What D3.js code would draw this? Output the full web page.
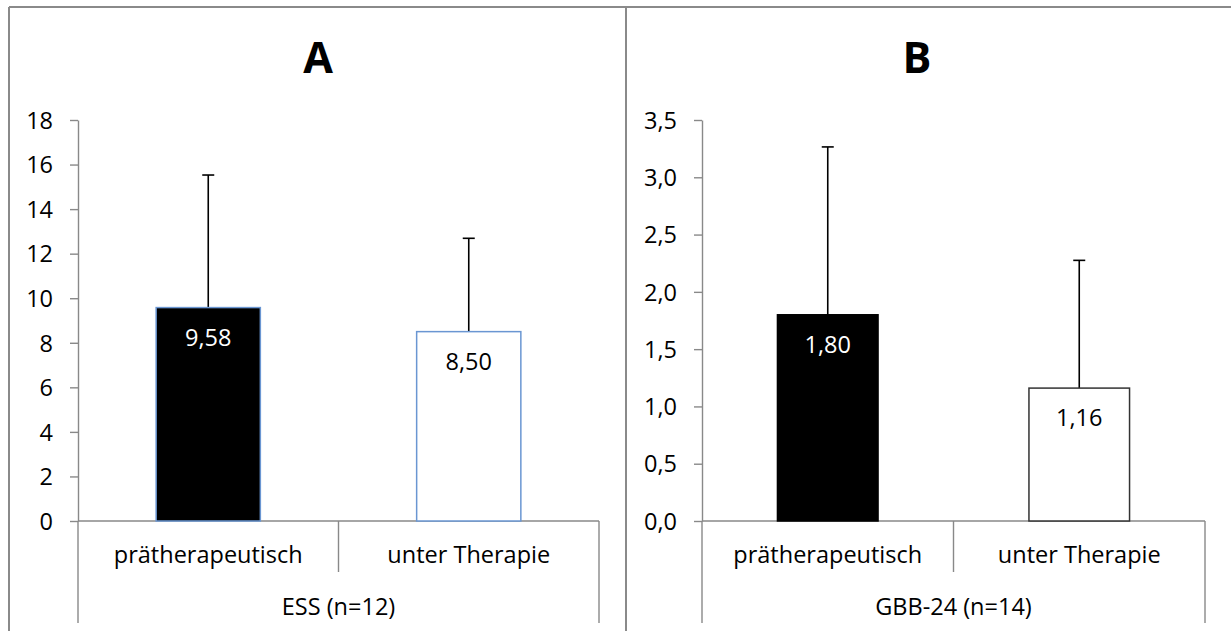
<!DOCTYPE html>
<head>
  <meta charset="utf-8">
  <script src="https://cdnjs.cloudflare.com/ajax/libs/d3/7.8.5/d3.min.js"></script>
</head>

<style>

body {
  margin: 0;
  background-color: #fff;
}

svg text {
  font-family: "Open Sans", "Noto Sans", sans-serif;
  fill: #000;
}

.frame line {
  stroke: #8a8a8a;
  stroke-width: 2;
}

.axis path, .axis line, .cat line {
  stroke: #898989;
  stroke-width: 1.4;
}

.axis text {
  font-size: 23.5px;
}

.title {
  font-size: 43px;
  font-weight: bold;
}

</style>

<body>
  <svg id='chart' width='1231' height='631'></svg>
</body>

<script>

// data
var panelTitles = ['A', 'B'];
var categories = ['prätherapeutisch', 'unter Therapie'];
var groupLabels = ['ESS (n=12)', 'GBB-24 (n=14)'];

var essMeans = [9.58, 8.50];
var essErrTop = [15.53, 12.69];
var essTicks = [0, 2, 4, 6, 8, 10, 12, 14, 16, 18];

var gbbMeans = [1.80, 1.16];
var gbbErrTop = [3.265, 2.275];
var gbbTicks = [0, 0.5, 1.0, 1.5, 2.0, 2.5, 3.0, 3.5];

var de = d3.formatLocale({decimal: ',', thousands: '.', grouping: [3], currency: ['', ' €']});

var svg = d3.select('#chart');

// outer frames
var frame = svg.append('g').attr('class', 'frame');
frame.append('line').attr('x1', 9).attr('x2', 1231).attr('y1', 7).attr('y2', 7);
frame.append('line').attr('x1', 9).attr('x2', 9).attr('y1', 7).attr('y2', 631);
frame.append('line').attr('x1', 626).attr('x2', 626).attr('y1', 7).attr('y2', 631);

var panels = [
  {title: panelTitles[0], group: groupLabels[0], means: essMeans, err: essErrTop, ticks: essTicks,
   fmt: de.format('d'), left: 78, right: 599, titleX: 318,
   fills: ['#000', '#fff'], strokes: ['#6a96d2', '#6a96d2'], labelFill: ['#fff', '#000']},
  {title: panelTitles[1], group: groupLabels[1], means: gbbMeans, err: gbbErrTop, ticks: gbbTicks,
   fmt: de.format('.1f'), left: 702, right: 1205, titleX: 917,
   fills: ['#000', '#fff'], strokes: ['#000', '#333'], labelFill: ['#fff', '#000']}
];

var y0 = 521, yTop = 120;

panels.forEach(function(p) {
  var g = svg.append('g');

  var x = d3.scaleBand().domain(categories).range([p.left, p.right]);
  var y = d3.scaleLinear().domain([0, d3.max(p.ticks)]).range([y0, yTop]);
  var bw = x.bandwidth() * 0.4;

  g.append('text').attr('class', 'title')
    .attr('x', p.titleX).attr('y', 73)
    .attr('text-anchor', 'middle')
    .text(p.title);

  var ax = g.append('g').attr('class', 'axis')
    .attr('transform', 'translate(' + p.left + ',0)')
    .call(d3.axisLeft(y).tickValues(p.ticks).tickFormat(p.fmt)
      .tickSize(8).tickSizeOuter(0).tickPadding(17));
  ax.selectAll('text').attr('dy', '0.35em');

  // category axis with separators
  var cat = g.append('g').attr('class', 'cat');
  cat.append('line').attr('x1', p.left).attr('x2', p.right).attr('y1', y0).attr('y2', y0);
  cat.append('line').attr('x1', p.left).attr('x2', p.left).attr('y1', y0).attr('y2', 623);
  cat.append('line').attr('x1', p.right).attr('x2', p.right).attr('y1', y0).attr('y2', 623);
  cat.append('line')
    .attr('x1', x(categories[1])).attr('x2', x(categories[1]))
    .attr('y1', y0).attr('y2', 572);

  g.selectAll('.catlabel').data(categories).enter().append('text')
    .attr('class', 'catlabel')
    .attr('x', function(d) { return x(d) + x.bandwidth() / 2; })
    .attr('y', 563)
    .attr('text-anchor', 'middle')
    .style('font-size', '23.5px')
    .text(function(d) { return d; });

  g.append('text')
    .attr('x', (p.left + p.right) / 2).attr('y', 615)
    .attr('text-anchor', 'middle')
    .style('font-size', '23.5px')
    .text(p.group);

  // error bars (drawn behind the bars)
  var err = g.selectAll('.err').data(categories).enter().append('g').attr('class', 'err');
  err.append('line')
    .attr('x1', function(d) { return x(d) + x.bandwidth() / 2; })
    .attr('x2', function(d) { return x(d) + x.bandwidth() / 2; })
    .attr('y1', function(d, i) { return y(p.means[i]); })
    .attr('y2', function(d, i) { return y(p.err[i]); })
    .attr('stroke', '#000').attr('stroke-width', 1.6);
  err.append('line')
    .attr('x1', function(d) { return x(d) + x.bandwidth() / 2 - 6; })
    .attr('x2', function(d) { return x(d) + x.bandwidth() / 2 + 6; })
    .attr('y1', function(d, i) { return y(p.err[i]); })
    .attr('y2', function(d, i) { return y(p.err[i]); })
    .attr('stroke', '#000').attr('stroke-width', 1.6);

  g.selectAll('.bar').data(categories).enter().append('rect')
    .attr('class', 'bar')
    .attr('x', function(d) { return x(d) + (x.bandwidth() - bw) / 2; })
    .attr('y', function(d, i) { return y(p.means[i]); })
    .attr('width', bw)
    .attr('height', function(d, i) { return y0 - y(p.means[i]); })
    .attr('fill', function(d, i) { return p.fills[i]; })
    .attr('stroke', function(d, i) { return p.strokes[i]; })
    .attr('stroke-width', 1.5);

  g.selectAll('.val').data(categories).enter().append('text')
    .attr('class', 'val')
    .attr('x', function(d) { return x(d) + x.bandwidth() / 2; })
    .attr('y', function(d, i) { return y(p.means[i]) + 38; })
    .attr('text-anchor', 'middle')
    .style('font-size', '23.5px')
    .style('fill', function(d, i) { return p.labelFill[i]; })
    .text(function(d, i) { return de.format('.2f')(p.means[i]); });
});

</script>
